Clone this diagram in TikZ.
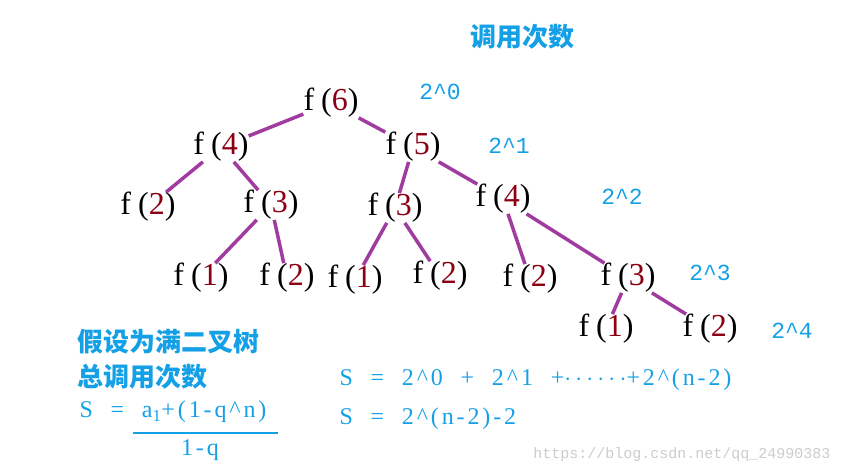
\documentclass[tikz,border=0pt]{standalone}
\usepackage{fontspec}
\setmainfont{Liberation Serif}
\newfontfamily\cjk{Noto Sans CJK SC}
\newfontfamily\mono{Liberation Mono}
\newfontfamily\wide[LetterSpace=22]{Liberation Serif}
\newfontfamily\widef[LetterSpace=12]{Liberation Serif}
\definecolor{bl}{RGB}{20,160,230}
\definecolor{pu}{RGB}{160,60,160}
\definecolor{dr}{RGB}{140,0,20}
\begin{document}
\begin{tikzpicture}[x=1pt,y=-1pt,
 fn/.style={font=\fontsize{32}{32}\selectfont\wide, inner sep=0pt},
 lab/.style={text=bl,font=\fontsize{23}{23}\selectfont\mono},
 ed/.style={pu,line width=3.5pt},
 btxt/.style={text=bl,font=\fontsize{24}{24}\selectfont\widef},
 ctxt/.style={text=bl,anchor=west,font=\fontsize{26}{26}\selectfont\cjk\bfseries}]
\useasboundingbox (0,0) rectangle (842,475);
\newcommand{\ff}[1]{f(\textcolor{dr}{#1})}
\node[fn] (a) at (331,103) {\ff6};
\node[fn] (b) at (221,147) {\ff4};
\node[fn] (c) at (413,147) {\ff5};
\node[fn] (d) at (148,207) {\ff2};
\node[fn] (e) at (271,205) {\ff3};
\node[fn] (g) at (395,208) {\ff3};
\node[fn] (h) at (503,199) {\ff4};
\node[fn] (i) at (201,278) {\ff1};
\node[fn] (j) at (287,278) {\ff2};
\node[fn] (k) at (355,280) {\ff1};
\node[fn] (l) at (440,276) {\ff2};
\node[fn] (m) at (530,279) {\ff2};
\node[fn] (n) at (628,278) {\ff3};
\node[fn] (o) at (606,329) {\ff1};
\node[fn] (p) at (710,329) {\ff2};
\foreach \u/\v in {a/b,a/c,b/d,b/e,c/g,c/h,e/i,e/j,g/k,g/l,h/m,h/n,n/o,n/p}
  \draw[ed] (\u) -- (\v);
\node[lab] (l0) at (440,92) {2\textasciicircum0};
\node[lab] (l1) at (509,146) {2\textasciicircum1};
\node[lab] (l2) at (622,197) {2\textasciicircum2};
\node[lab] (l3) at (710,273) {2\textasciicircum3};
\node[lab] (l4) at (792,331) {2\textasciicircum4};
\node[ctxt,anchor=center] (t) at (522,37) {调用次数};
\node[ctxt] (c1) at (74,342) {假设为满二叉树};
\node[ctxt] (c2) at (74,377) {总调用次数};
\node[btxt,anchor=west] (s1) at (76,412) {S\ \ =\ \ a\textsubscript{1}+(1-q\textasciicircum n)};
\draw[bl,line width=2.5pt] (133,433) -- (278,433);
\node[btxt] (q) at (200,450) {1-q};
\node[btxt,anchor=west] (s2) at (336,380) {S\ \ =\ \ 2\textasciicircum0\ \ +\ \ 2\textasciicircum1\ \ +$\cdots\cdots$+2\textasciicircum(n-2)};
\node[btxt,anchor=west] (s3) at (336,419) {S\ \ =\ \ 2\textasciicircum(n-2)-2};
\node[anchor=east,text=black!20,font=\fontsize{15}{15}\selectfont\mono] (w) at (834,455) {https://blog.csdn.net/qq\_24990383};
\end{tikzpicture}
\end{document}
